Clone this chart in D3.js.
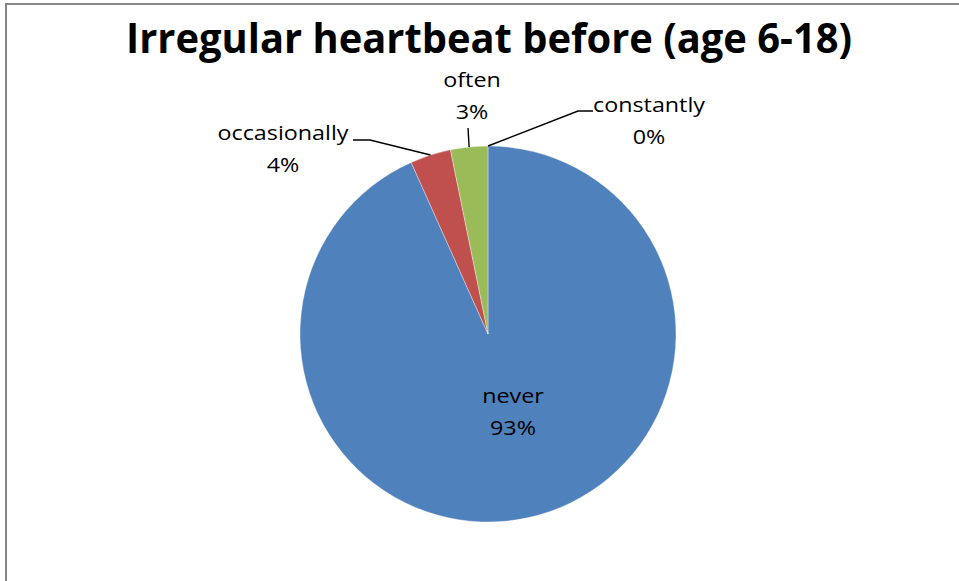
<!DOCTYPE html>
<html>
<head>
<meta charset="utf-8">
<script src="https://cdn.jsdelivr.net/npm/d3@7/dist/d3.min.js"></script>
<style>
  html, body { margin: 0; padding: 0; background: #fff; }
  svg { display: block; }
</style>
</head>
<body>
<svg id="chart" width="959" height="581"></svg>
<script>
// ---- Data ----
const categories = ["never", "occasionally", "often", "constantly"];
const values = [93.3, 3.5, 3.2, 0];
const percentLabels = ["93%", "4%", "3%", "0%"];
const colors = ["#4F81BD", "#C0504D", "#9BBB59", "#8064A2"];
const title = "Irregular heartbeat before (age 6-18)";

// ---- Layout ----
const W = 959, H = 581;
const cx = 488, cy = 334, R = 188;
const svg = d3.select("#chart");

// chart frame
svg.append("rect")
  .attr("x", 6).attr("y", 4).attr("width", W + 10).attr("height", H + 10)
  .attr("fill", "#fff").attr("stroke", "#868686").attr("stroke-width", 2);

const data = categories.map((c, i) => ({ cat: c, value: values[i], pct: percentLabels[i], color: colors[i] }));

const pie = d3.pie().value(d => d.value).sort(null);
const arcs = pie(data);
const arc = d3.arc().innerRadius(0).outerRadius(R);

const g = svg.append("g").attr("transform", `translate(${cx},${cy})`);
g.selectAll("path.slice")
  .data(arcs.filter(a => a.endAngle > a.startAngle))
  .join("path")
  .attr("class", "slice")
  .attr("d", arc)
  .attr("fill", d => d.data.color)
  .attr("stroke", "#ffffff")
  .attr("stroke-width", 0.6)
  .attr("stroke-opacity", 0.6);

// point on rim at slice's mid angle
function rimPoint(a) {
  const m = (a.startAngle + a.endAngle) / 2;
  return [cx + R * Math.sin(m), cy - R * Math.cos(m)];
}

// label layout: [centerX, baseline of first line], optional leader path (before rim point)
const labelLayout = {
  never:        { x: 513, y: 403, leader: null },
  occasionally: { x: 283, y: 140, leader: [[353, 140], [370, 140]] },
  often:        { x: 472, y: 87,  leader: [[468, 128]] },
  constantly:   { x: 649, y: 112, leader: [[593, 111], [578, 111]] }
};
const lineGap = 31.5;

const fontFamily = "'Open Sans', 'Noto Sans', 'Liberation Sans', sans-serif";

// leader lines
arcs.forEach(a => {
  const L = labelLayout[a.data.cat];
  if (!L.leader) return;
  const pts = L.leader.concat([rimPoint(a)]);
  g.append("path")
    .attr("transform", `translate(${-cx},${-cy})`)
    .attr("d", d3.line()(pts))
    .attr("fill", "none").attr("stroke", "#000").attr("stroke-width", 1.4);
});

// labels
const labelG = svg.append("g");
const labelTexts = [];
arcs.forEach(a => {
  const L = labelLayout[a.data.cat];
  [a.data.cat, a.data.pct].forEach((t, k) => {
    const el = labelG.append("text")
      .attr("x", L.x).attr("y", L.y + k * lineGap)
      .attr("text-anchor", "middle")
      .attr("font-family", fontFamily)
      .attr("font-size", 20.5)
      .attr("fill", "#000")
      .text(t);
    labelTexts.push(el);
  });
});
// condense labels to Calibri-like width (target: "constantly" ≈ 112px)
const ref = labelTexts.find(t => t.text() === "constantly");
const factor = 112 / ref.node().getComputedTextLength();
labelTexts.forEach(t => {
  const w = t.node().getComputedTextLength();
  t.attr("textLength", w * factor).attr("lengthAdjust", "spacingAndGlyphs");
});

// title
const tEl = svg.append("text")
  .attr("x", 489).attr("y", 53)
  .attr("text-anchor", "middle")
  .attr("font-family", fontFamily)
  .attr("font-weight", "bold")
  .attr("font-size", 42)
  .attr("fill", "#000")
  .text(title);
tEl.attr("textLength", 726).attr("lengthAdjust", "spacingAndGlyphs");
</script>
</body>
</html>
